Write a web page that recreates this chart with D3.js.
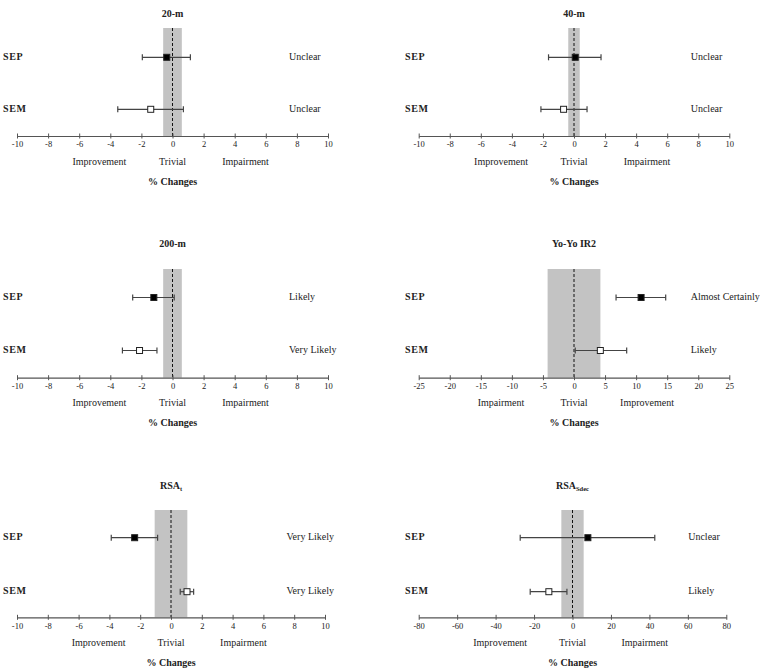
<!DOCTYPE html>
<html>
<head>
<meta charset="utf-8">
<script src="https://d3js.org/d3.v7.min.js"></script>
<style>
    body { margin: 0; background: #fff; }
    text { font-family: "Liberation Serif", "Times New Roman", serif; fill: #222; }
    .bold { font-weight: bold; }
</style>
</head>
<body>
<script>
    // chart values, one entry per panel
    var titles = ["20-m", "40-m", "200-m", "Yo-Yo IR2", "RSA", "RSA"];
    var subs = ["", "", "", "", "t", "Sdec"];
    var domains = [[-10, 10], [-10, 10], [-10, 10], [-25, 25], [-10, 10], [-80, 80]];
    var tickSteps = [2, 2, 2, 5, 2, 20];
    var trivial = [0.6, 0.37, 0.6, 4.25, 1.06, 5.8];

    var sepMean = [-0.37, 0.08, -1.2, 10.8, -2.36, 8];
    var sepLow = [-1.94, -1.64, -2.56, 6.77, -3.88, -27.2];
    var sepHigh = [1.15, 1.74, 0.11, 14.76, -0.87, 42.8];

    var semMean = [-1.4, -0.67, -2.12, 4.24, 1.04, -12.3];
    var semLow = [-3.52, -2.13, -3.22, 0.2, 0.6, -22];
    var semHigh = [0.7, 0.84, -1.0, 8.48, 1.47, -2.9];

    var sepOutcome = ["Unclear", "Unclear", "Likely", "Almost Certainly", "Very Likely", "Unclear"];
    var semOutcome = ["Unclear", "Unclear", "Very Likely", "Likely", "Very Likely", "Likely"];

    var leftWords = ["Improvement", "Improvement", "Improvement", "Impairment", "Improvement", "Improvement"];
    var rightWords = ["Impairment", "Impairment", "Impairment", "Improvement", "Impairment", "Impairment"];

    // layout
    var w = 760, h = 671;
    var cols = [
        { x0: 17, x1: 328, label: 3, outcome: 289 },
        { x0: 418.7, x1: 729.3, label: 405, outcome: 690.7 }
    ];
    var rows = [
        { title: 14.5, band: 28, sep: 57.3, sem: 109.3, axis: 136 },
        { title: 245, band: 269, sep: 297.5, sem: 350.5, axis: 377.7 },
        { title: 487, band: 510, sep: 537.7, sem: 591.7, axis: 617.3 }
    ];

    var svg = d3.select("body").append("svg")
        .attr("width", w)
        .attr("height", h);

    titles.forEach(function (t, i) {
        var col = cols[i % 2];
        var row = rows[Math.floor(i / 2)];
        var x1 = col.x1;
        var outX = col.outcome;
        if (i >= 4) { x1 = col.x1 - 3; outX = col.outcome - 2.5; }

        var x = d3.scaleLinear().domain(domains[i]).range([col.x0, x1]);
        var g = svg.append("g");

        // trivial zone
        g.append("rect")
            .attr("x", x(-trivial[i]))
            .attr("y", row.band)
            .attr("width", x(trivial[i]) - x(-trivial[i]))
            .attr("height", row.axis - row.band)
            .attr("fill", "#c3c3c3");

        // zero line
        g.append("line")
            .attr("x1", x(0)).attr("x2", x(0))
            .attr("y1", row.band).attr("y2", row.axis)
            .attr("stroke", "#111")
            .attr("stroke-width", 1)
            .attr("stroke-dasharray", "3,2");

        // axis
        var ticks = d3.range(domains[i][0], domains[i][1] + tickSteps[i] / 2, tickSteps[i]);
        var axis = g.append("g")
            .attr("transform", "translate(0," + row.axis + ")")
            .call(d3.axisBottom(x).tickValues(ticks).tickSize(0).tickFormat(function (d) { return String(d); }));
        axis.select(".domain").attr("stroke", "#555").attr("stroke-width", 1.2);
        axis.selectAll(".tick line").attr("y1", -2.5).attr("y2", 2.5).attr("stroke", "#555");
        axis.selectAll(".tick text")
            .attr("y", 9.5).attr("dy", null)
            .attr("dominant-baseline", "middle")
            .attr("font-family", "Liberation Serif")
            .attr("font-size", 8.5)
            .attr("fill", "#333");

        // title
        var tt = g.append("text")
            .attr("class", "bold")
            .attr("x", x(0))
            .attr("y", row.title)
            .attr("text-anchor", "middle")
            .attr("dominant-baseline", "middle")
            .attr("font-size", 10);
        tt.append("tspan").text(t);
        if (subs[i]) {
            tt.append("tspan").attr("font-size", 6.5).attr("dy", 3).text(subs[i]);
        }

        // region labels
        var words = [[-0.47 * domains[i][1], leftWords[i]], [0, "Trivial"], [0.47 * domains[i][1], rightWords[i]]];
        g.selectAll(".word")
            .data(words)
            .enter()
            .append("text")
            .attr("x", function (d) { return x(d[0]); })
            .attr("y", row.axis + 26.5)
            .attr("text-anchor", "middle")
            .attr("dominant-baseline", "middle")
            .attr("font-size", 10)
            .text(function (d) { return d[1]; });

        g.append("text")
            .attr("class", "bold")
            .attr("x", x(0))
            .attr("y", row.axis + 46.5)
            .attr("text-anchor", "middle")
            .attr("dominant-baseline", "middle")
            .attr("font-size", 10)
            .text("% Changes");

        var series = [
            { name: "SEP", y: row.sep, m: sepMean[i], lo: sepLow[i], hi: sepHigh[i], out: sepOutcome[i], fill: "#000" },
            { name: "SEM", y: row.sem, m: semMean[i], lo: semLow[i], hi: semHigh[i], out: semOutcome[i], fill: "#fff" }
        ];

        series.forEach(function (s) {
            g.append("text")
                .attr("class", "bold")
                .attr("x", col.label)
                .attr("y", s.y)
                .attr("dominant-baseline", "middle")
                .attr("font-size", 10)
                .attr("letter-spacing", 0.6)
                .text(s.name);

            g.append("text")
                .attr("x", outX)
                .attr("y", s.y)
                .attr("dominant-baseline", "middle")
                .attr("font-size", 10)
                .text(s.out);

            g.append("line")
                .attr("x1", x(s.lo)).attr("x2", x(s.hi))
                .attr("y1", s.y).attr("y2", s.y)
                .attr("stroke", "#444").attr("stroke-width", 1.2);
            [s.lo, s.hi].forEach(function (v) {
                g.append("line")
                    .attr("x1", x(v)).attr("x2", x(v))
                    .attr("y1", s.y - 3).attr("y2", s.y + 3)
                    .attr("stroke", "#444").attr("stroke-width", 1.2);
            });

            g.append("rect")
                .attr("x", x(s.m) - 3)
                .attr("y", s.y - 3)
                .attr("width", 6)
                .attr("height", 6)
                .attr("fill", s.fill)
                .attr("stroke", "#222")
                .attr("stroke-width", 1);
        });
    });
</script>
</body>
</html>
